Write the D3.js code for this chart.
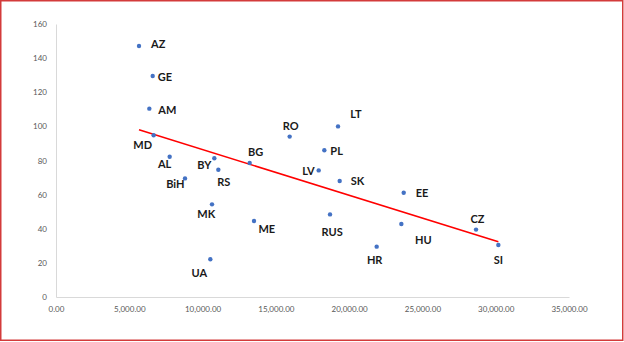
<!DOCTYPE html>
<html><head><meta charset="utf-8">
<script src="https://cdn.jsdelivr.net/npm/d3@7"></script>
<style>html,body{margin:0;padding:0;background:#fff;}svg{display:block;}</style>
</head><body>
<svg id="chart" width="624" height="342"></svg>
<script>
const countries = ["AZ","GE","AM","MD","AL","BY","BG","RO","LV","RS","BiH","MK","ME","UA","LT","PL","SK","EE","RUS","HU","HR","CZ","SI"];
const gdp = [5663,6597,6368,6663,7755,10803,13214,15943,17922,11075,8802,10644,13510,10530,19241,18308,19354,23722,18695,23562,21879,28658,30180];
const values = [147.1,129.5,110.4,94.8,82.2,81.3,78.5,94.0,74.2,74.6,69.5,54.3,44.5,22.1,100.0,86.0,68.0,61.1,48.4,42.8,29.5,39.5,30.5];
// label offsets (px) relative to each point: [dx, dy, anchor]
const labelDx = [12,5,9,-11,-5,-10,6,1,-4,5.5,-9.7,-5.7,12.8,-11,18,6,11,12,2.2,22,-2,1.5,0];
const labelDy = [-2,0.7,1.5,10,7,7,-11,-10,1,12,6,9.4,8.3,13.4,-12.6,1,0.3,0,18,15.7,13,-10.7,15];
const labelAnchor = ["start","start","start","middle","middle","middle","middle","middle","end","middle","middle","middle","middle","middle","middle","start","start","start","middle","middle","middle","middle","middle"];
const trendX = [5663, 30180];
const trendY = [98.0, 32.4];
const xTicks = [0,5000,10000,15000,20000,25000,30000,35000];
const yTicks = [0,20,40,60,80,100,120,140,160];

const svg = d3.select("#chart");
svg.append("rect").attr("x",0.75).attr("y",0.75).attr("width",622).attr("height",339.5)
  .attr("fill","#fff").attr("stroke","#d33b3b").attr("stroke-width",1.5);

const x = d3.scaleLinear().domain([0,35000]).range([56,569]);
const y = d3.scaleLinear().domain([0,160]).range([297,24]);

const fmt = d3.format(",.2f");
const xAxis = svg.append("g").attr("transform","translate(0,297)")
  .call(d3.axisBottom(x).tickValues(xTicks).tickFormat(fmt).tickSize(0).tickPadding(9));
const yAxis = svg.append("g").attr("transform","translate(56,0)")
  .call(d3.axisLeft(y).tickValues(yTicks).tickFormat(d3.format("d")).tickSize(0).tickPadding(9));
[xAxis,yAxis].forEach(g=>{
  g.select(".domain").attr("stroke","#d9d9d9").attr("stroke-width",1);
  g.selectAll("text").attr("fill","#595959").style("font-family","Lato, sans-serif").style("font-size","8px");
});

svg.append("line")
  .attr("x1",x(trendX[0])).attr("y1",y(trendY[0]))
  .attr("x2",x(trendX[1])).attr("y2",y(trendY[1]))
  .attr("stroke","#ff0000").attr("stroke-width",1.6);

const idx = d3.range(countries.length);
svg.append("g").selectAll("circle").data(idx).join("circle")
  .attr("cx",i=>x(gdp[i])).attr("cy",i=>y(values[i])).attr("r",2.2).attr("fill","#4472c4");

svg.append("g").selectAll("text").data(idx).join("text")
  .attr("x",i=>x(gdp[i])+labelDx[i]).attr("y",i=>y(values[i])+labelDy[i])
  .attr("dy","0.35em").attr("text-anchor",i=>labelAnchor[i])
  .style("font-family","Lato, sans-serif").style("font-weight","bold").style("font-size","11px")
  .attr("fill","#1a1a1a").text(i=>countries[i]);
</script>
</body></html>
